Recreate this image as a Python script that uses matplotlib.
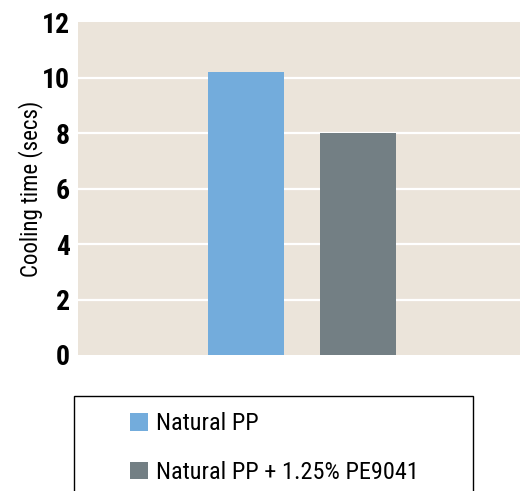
import matplotlib.pyplot as plt
from matplotlib.patches import Rectangle

# data
series = ["Natural PP", "Natural PP + 1.25% PE9041"]
cooling_time = [10.2, 8.0]
bar_colors = ["#73acdc", "#737f84"]
yticks = [0, 2, 4, 6, 8, 10, 12]

plt.rcParams['font.family'] = ['Roboto Condensed', 'Roboto', 'DejaVu Sans']

fig = plt.figure(figsize=(5.2, 4.91), dpi=100)
ax = fig.add_axes([0.15, 0.277, 0.85, 0.678])
ax.set_facecolor("#ebe4da")

bars = []
for i, (name, val, col) in enumerate(zip(series, cooling_time, bar_colors)):
    b = ax.bar(i, val, width=0.68, color=col, label=name, zorder=3)
    bars.append(b)

ax.set_xlim(-1.5, 2.45)
ax.set_ylim(0, 12)
ax.set_yticks(yticks)
ax.set_yticklabels([str(t) for t in yticks], fontsize=20, fontweight='bold')
ax.set_xticks([])
ax.tick_params(axis='y', length=0, pad=6)
for t in yticks[1:-1]:
    ax.axhline(t, color='white', linewidth=1.6, zorder=2)
for s in ax.spines.values():
    s.set_visible(False)

ax.set_ylabel("Cooling time (secs)", fontsize=16.5)
ax.yaxis.set_label_coords(-0.079, 0.5)

# legend box (runs off the bottom edge)
fig.patches.append(Rectangle((0.142, -0.1), 0.767, 0.2935, transform=fig.transFigure,
                             fill=False, edgecolor='black', linewidth=1.0))
fig.legend(handles=[b[0] for b in bars], labels=series, loc='upper left',
           bbox_to_anchor=(0.25, 0.160), frameon=False, fontsize=17.5,
           handlelength=0.75, handleheight=0.75, handletextpad=0.3,
           labelspacing=1.05, borderpad=0, borderaxespad=0)

fig.savefig("out.png", dpi=100)
